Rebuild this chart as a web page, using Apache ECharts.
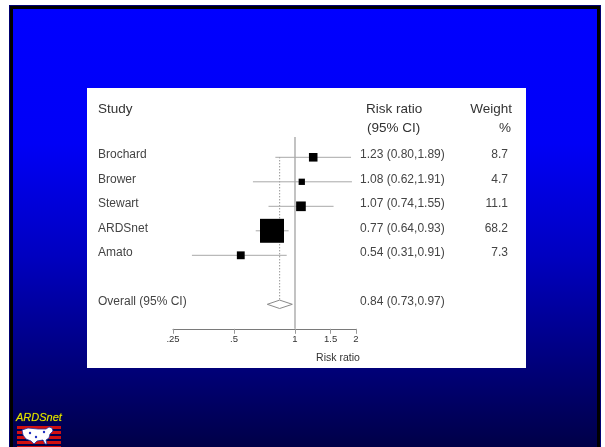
<!DOCTYPE html>
<html><head><meta charset="utf-8">
<script src="https://cdn.jsdelivr.net/npm/echarts@6/dist/echarts.min.js"></script>
<style>html,body{margin:0;padding:0;background:#fff}#chart{width:605px;height:447px}</style>
</head><body><div id="chart"></div>
<script>
// Meta-analysis of trials: risk ratio (95% CI) and weight per study
const studies = ['Brochard', 'Brower', 'Stewart', 'ARDSnet', 'Amato'];
const riskRatio = [1.23, 1.08, 1.07, 0.77, 0.54];
const ciLow = [0.80, 0.62, 0.74, 0.64, 0.31];
const ciHigh = [1.89, 1.91, 1.55, 0.93, 0.91];
const weights = [8.7, 4.7, 11.1, 68.2, 7.3];
const overallLabel = 'Overall (95% CI)';
const overallRR = 0.84;
const overallLow = 0.73;
const overallHigh = 0.97;
const tickValues = [0.25, 0.5, 1, 1.5, 2];
const tickLabels = ['.25', '.5', '1', '1.5', '2'];

const overallRow = studies.length + 1;
const FONT = '"Liberation Sans", Arial, sans-serif';
const fmt = v => v.toFixed(2);

const chart = echarts.init(document.getElementById('chart'), null, { renderer: 'canvas' });

// US map outline for the network logo
const usShape = [[0,3],[6,1],[16,2],[24,2],[27,0],[30,1],[31,4],[28,7],[27,11],[24,13],[25,17],[23,17],[21,13],[15,14],[12,17],[9,14],[4,12],[1,8]]
  .map(p => [22 + p[0], 427 + p[1]]);
const stripes = [];
for (let y = 426; y < 450; y += 5) {
  stripes.push({ type: 'rect', shape: { x: 17, y: y, width: 44, height: 3 }, style: { fill: '#d01010' } });
}

const rowText = (params, api) => {
  const i = params.dataIndex;
  const isOverall = i === studies.length;
  const row = isOverall ? overallRow : i;
  const y = api.coord([1, row])[1] - 2.5;
  const name = isOverall ? overallLabel : studies[i];
  const ci = isOverall
    ? `${fmt(overallRR)} (${fmt(overallLow)},${fmt(overallHigh)})`
    : `${fmt(riskRatio[i])} (${fmt(ciLow[i])},${fmt(ciHigh[i])})`;
  const children = [
    { type: 'text', style: { x: 98, y: y, text: name, fill: '#444', font: '12px ' + FONT, textVerticalAlign: 'middle' } },
    { type: 'text', style: { x: 360, y: y, text: ci, fill: '#444', font: '12px ' + FONT, textVerticalAlign: 'middle' } }
  ];
  if (!isOverall) {
    children.push({ type: 'text', style: { x: 508, y: y, text: weights[i].toFixed(1), fill: '#444', font: '12px ' + FONT, textAlign: 'right', textVerticalAlign: 'middle' } });
  }
  return { type: 'group', children };
};

chart.setOption({
  backgroundColor: '#ffffff',
  animation: false,
  graphic: [
    { type: 'rect', z: -10, shape: { x: 9, y: 5, width: 592, height: 450 }, style: { fill: '#000070' } },
    { type: 'rect', z: -10, shape: { x: 10, y: 6, width: 590, height: 450 }, style: { fill: '#000000' } },
    { type: 'rect', z: -10, shape: { x: 13, y: 9, width: 584, height: 450 },
      style: { fill: new echarts.graphic.LinearGradient(0, 0, 0, 1, [
        { offset: 0, color: '#0000ff' },
        { offset: 0.3, color: '#0000f6' },
        { offset: 0.55, color: '#0000c0' },
        { offset: 0.8, color: '#000078' },
        { offset: 1, color: '#000040' }
      ]) } },
    { type: 'rect', z: -9, shape: { x: 87, y: 88, width: 439, height: 280 }, style: { fill: '#ffffff' } },
    { type: 'text', z: 5, style: { x: 98, y: 109, text: 'Study', fill: '#333', font: '13.5px ' + FONT, textVerticalAlign: 'middle' } },
    { type: 'text', z: 5, style: { x: 366, y: 109, text: 'Risk ratio', fill: '#333', font: '13.5px ' + FONT, textVerticalAlign: 'middle' } },
    { type: 'text', z: 5, style: { x: 367, y: 128, text: '(95% CI)', fill: '#333', font: '13.5px ' + FONT, textVerticalAlign: 'middle' } },
    { type: 'text', z: 5, style: { x: 512, y: 109, text: 'Weight', fill: '#333', font: '13.5px ' + FONT, textAlign: 'right', textVerticalAlign: 'middle' } },
    { type: 'text', z: 5, style: { x: 511, y: 128, text: '%', fill: '#333', font: '13.5px ' + FONT, textAlign: 'right', textVerticalAlign: 'middle' } },
    { type: 'text', z: 5, style: { x: 338, y: 358, text: 'Risk ratio', fill: '#333', font: '10.5px ' + FONT, textAlign: 'center', textVerticalAlign: 'middle' } },
    // network logo
    { type: 'group', z: 5, children: stripes.concat([
      { type: 'polygon', shape: { points: usShape }, style: { fill: '#ffffff', stroke: '#2030a0', lineWidth: 0.8 } },
      { type: 'circle', shape: { cx: 30, cy: 433, r: 1.2 }, style: { fill: '#2030c0' } },
      { type: 'circle', shape: { cx: 36, cy: 437, r: 1.2 }, style: { fill: '#2030c0' } },
      { type: 'circle', shape: { cx: 44, cy: 432, r: 1.2 }, style: { fill: '#2030c0' } },
      { type: 'text', style: { x: 16, y: 418, text: 'ARDSnet', fill: '#e6e600', stroke: '#606000', lineWidth: 0.4, font: 'italic 11px ' + FONT, textVerticalAlign: 'middle' } }
    ]) }
  ],
  grid: { left: 173, width: 183, top: 132.8, height: 196, containLabel: false },
  xAxis: {
    type: 'log', logBase: 2, min: 0.25, max: 2,
    axisLine: { show: true, onZero: false, lineStyle: { color: '#7a7a7a', width: 1 } },
    axisTick: { show: true, length: 5, customValues: tickValues, lineStyle: { color: '#9a9a9a' } },
    axisLabel: {
      customValues: tickValues, margin: 6, color: '#333', fontSize: 9.5, fontFamily: FONT,
      formatter: v => { const k = tickValues.findIndex(t => Math.abs(t - v) < 1e-6); return k >= 0 ? tickLabels[k] : ''; }
    },
    splitLine: { show: false }
  },
  yAxis: { type: 'value', inverse: true, min: -1, max: 7, show: false },
  series: [
    { // line of no effect
      type: 'line', symbol: 'none', silent: true, z: 1,
      data: [[1, -0.83], [1, 7]],
      lineStyle: { color: '#9a9a9a', width: 1.2 }
    },
    { // pooled estimate reference
      type: 'line', symbol: 'none', silent: true, z: 1,
      data: [[overallRR, 0], [overallRR, overallRow - 0.17]],
      lineStyle: { color: '#6a6a6a', width: 1, type: [1, 2] }
    },
    { // confidence intervals
      type: 'custom', z: 2, silent: true,
      data: studies.map((s, i) => [ciLow[i], i, ciHigh[i]]),
      encode: { x: [0, 2], y: 1 },
      renderItem: (params, api) => {
        const a = api.coord([api.value(0), api.value(1)]);
        const b = api.coord([api.value(2), api.value(1)]);
        return { type: 'line', shape: { x1: a[0], y1: a[1], x2: b[0], y2: b[1] }, style: { stroke: '#a8a8a8', lineWidth: 1 } };
      }
    },
    { // point estimates, box area proportional to weight
      type: 'scatter', z: 3, silent: true,
      data: studies.map((s, i) => [riskRatio[i], i, weights[i]]),
      symbol: 'rect',
      symbolSize: v => 2.9 * Math.sqrt(v[2]),
      itemStyle: { color: '#000', opacity: 1 }
    },
    { // overall diamond
      type: 'custom', z: 3, silent: true,
      data: [[overallRR, overallRow, overallLow, overallHigh]],
      renderItem: (params, api) => {
        const c = api.coord([api.value(0), api.value(1)]);
        const l = api.coord([api.value(2), api.value(1)]);
        const r = api.coord([api.value(3), api.value(1)]);
        const h = 4.2;
        return { type: 'polygon', shape: { points: [[l[0], c[1]], [c[0], c[1] - h], [r[0], c[1]], [c[0], c[1] + h]] },
          style: { fill: '#fff', stroke: '#8a8a8a', lineWidth: 1 } };
      }
    },
    { // study names, estimates and weights
      type: 'custom', z: 4, silent: true,
      data: studies.map((s, i) => [1, i]).concat([[1, overallRow]]),
      renderItem: rowText
    }
  ]
});
</script></body></html>
